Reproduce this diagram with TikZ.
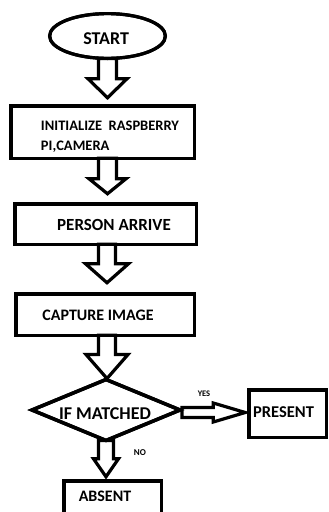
\documentclass[tikz,border=0pt]{standalone}
\usepackage{fontspec}
\setmainfont{Carlito}
\usetikzlibrary{shapes.geometric,calc}
\tikzset{
  box/.style={draw, line width=3.5pt, inner sep=0pt, outer sep=0pt, rectangle},
  txt/.style={font=\bfseries\fontsize{#1}{#1}\selectfont, inner sep=0pt, outer sep=0pt, anchor=base, text=black},
  blockarrow/.style={draw, line width=3.2pt, fill=white, miter limit=10},
}
% #1 from node, #2 to node, #3 x centre, #4 shaft half, #5 head half, #6 head length, #7 gap
\newcommand\vblockarrow[7]{%
  \draw[blockarrow] let \p1=(#1.south), \p2=(#2.north) in
    (#3pt-#4pt,\y1) -- (#3pt+#4pt,\y1) -- (#3pt+#4pt,\y2+#7pt+#6pt) -- (#3pt+#5pt,\y2+#7pt+#6pt)
    -- (#3pt,\y2+#7pt) -- (#3pt-#5pt,\y2+#7pt+#6pt) -- (#3pt-#4pt,\y2+#7pt+#6pt) -- cycle;}
\begin{document}
\begin{tikzpicture}[x=1pt,y=-1pt]
\useasboundingbox (0,0) rectangle (329,512);
% shapes
\node[draw, ellipse, line width=3.2pt, inner sep=0pt, outer sep=0pt, minimum width=115.8pt, minimum height=44.8pt] (start) at (107.5,36) {};
\node[box, minimum width=183.5pt, minimum height=52.5pt] (init) at (102.5,132) {};
\node[box, minimum width=181.5pt, minimum height=40.5pt] (person) at (105.5,224) {};
\node[box, minimum width=178.5pt, minimum height=41.5pt] (capture) at (105,314.5) {};
\node[draw, diamond, line width=3.5pt, inner sep=0pt, outer sep=0pt, minimum width=148pt, minimum height=61pt] (match) at (106,410) {};
\node[box, minimum width=77.5pt, minimum height=47.5pt] (present) at (287.5,413.5) {};
\node[box, minimum width=97.5pt, minimum height=50pt] (absent) at (112.5,505.75) {};
% block arrows
\vblockarrow{start}{init}{107.5}{9}{19.5}{19}{8}
\vblockarrow{init}{person}{107.5}{9}{18.5}{15}{10}
\vblockarrow{person}{capture}{107}{8.5}{21.5}{19}{11}
\vblockarrow{capture}{match}{107}{8.5}{21}{24}{1}
\vblockarrow{match}{absent}{106}{7.5}{12.5}{18}{4}
\draw[blockarrow] let \p1=(match.east), \p2=(present.west) in
  (\x1+2pt,-407.5pt) -- (\x2-3.5pt-32pt,-407.5pt) -- (\x2-3.5pt-32pt,-403pt) -- (\x2-3.5pt,-412.5pt)
  -- (\x2-3.5pt-32pt,-422pt) -- (\x2-3.5pt-32pt,-417.5pt) -- (\x1+2pt,-417.5pt) -- cycle;
% redraw borders on top
\node[draw, ellipse, line width=3.2pt, inner sep=0pt, outer sep=0pt, minimum width=115.8pt, minimum height=44.8pt] at (start) {};
\node[box, minimum width=183.5pt, minimum height=52.5pt] at (init) {};
\node[box, minimum width=181.5pt, minimum height=40.5pt] at (person) {};
\node[box, minimum width=178.5pt, minimum height=41.5pt] at (capture) {};
\node[draw, diamond, line width=3.5pt, inner sep=0pt, outer sep=0pt, minimum width=148pt, minimum height=61pt] at (match) {};
\node[box, minimum width=77.5pt, minimum height=47.5pt] at (present) {};
\node[box, minimum width=97.5pt, minimum height=50pt] at (absent) {};
% texts
\node[txt=18] (tstart) at (106.2,44) {START};
\node[txt=14.5, anchor=base west] (tinit1) at (41,130.7) {INITIALIZE\ \ RASPBERRY};
\node[txt=14.5, anchor=base west] (tinit2) at (41,150.7) {PI,CAMERA};
\node[txt=17] (tperson) at (114,230) {PERSON ARRIVE};
\node[txt=16] (tcapture) at (98,320.7) {CAPTURE IMAGE};
\node[txt=18] (tmatch) at (105,419) {IF MATCHED};
\node[txt=16.5] (tpresent) at (283.5,417.3) {PRESENT};
\node[txt=16] (tabsent) at (105,501.7) {ABSENT};
\node[txt=8.5] (tyes) at (204,396.7) {YES};
\node[txt=9] (tno) at (140,455.7) {NO};
\end{tikzpicture}
\end{document}
